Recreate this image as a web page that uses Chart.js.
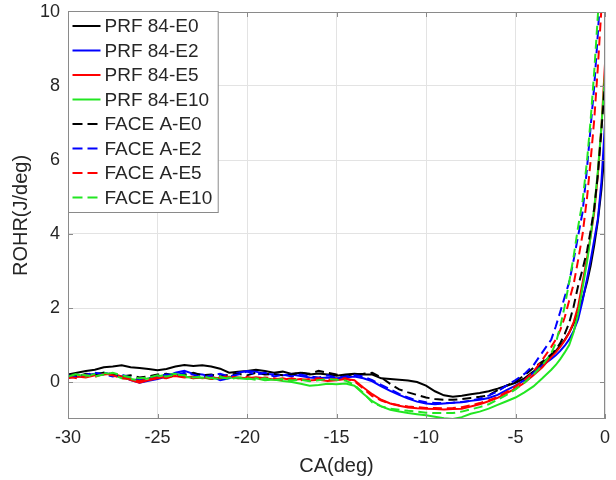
<!DOCTYPE html>
<html>
<head>
<meta charset="utf-8">
<script src="https://cdn.jsdelivr.net/npm/chart.js@4.4.0/dist/chart.umd.min.js"></script>
<style>
  html, body { margin: 0; padding: 0; background: #fff; }
  #wrap { width: 616px; height: 480px; }
</style>
</head>
<body>
<div id="wrap"><canvas id="rohrChart" width="616" height="480"></canvas></div>
<script>
// crank angle samples (deg), shared by all curves
const CA = [-30, -29.5, -29, -28.5, -28, -27.5, -27, -26.5, -26, -25.5,
  -25, -24.5, -24, -23.5, -23, -22.5, -22, -21.5, -21, -20.5,
  -20, -19.5, -19, -18.5, -18, -17.5, -17, -16.5, -16, -15.5,
  -15, -14.5, -14, -13.5, -13, -12.5, -12, -11.5, -11, -10.5,
  -10, -9.5, -9, -8.5, -8, -7.5, -7, -6.5, -6, -5.5,
  -5,
  -4.5, -4, -3.5, -3, -2.75, -2.5, -2.25, -2, -1.75, -1.5, -1.25, -1, -0.8, -0.6, -0.4, -0.2, 0];

// ROHR (J/deg)
const prfE0 = [0.2, 0.25, 0.3, 0.33, 0.4, 0.42, 0.45, 0.4, 0.38, 0.35,
  0.32, 0.35, 0.42, 0.46, 0.43, 0.45, 0.42, 0.36, 0.25, 0.28,
  0.3, 0.33, 0.3, 0.25, 0.28, 0.22, 0.25, 0.2, 0.23, 0.2,
  0.17, 0.2, 0.22, 0.2, 0.2, 0.1, 0.08, 0.06, 0.04, 0.0,
  -0.1, -0.25, -0.36, -0.4, -0.37, -0.33, -0.3, -0.25, -0.18, -0.1,
  -0.02,
  0.1, 0.28, 0.5, 0.72, 0.84, 0.98, 1.14, 1.34, 1.58, 1.88, 2.25, 2.7, 3.15, 3.7, 4.35, 5.2, 6.35];
const prfE2 = [0.12, 0.14, 0.18, 0.22, 0.25, 0.2, 0.15, 0.05, -0.02, 0.03,
  0.08, 0.15, 0.25, 0.3, 0.22, 0.2, 0.15, 0.05, 0.1, 0.25,
  0.3, 0.28, 0.22, 0.2, 0.18, 0.2, 0.16, 0.12, 0.1, 0.12,
  0.1, 0.12, 0.15, 0.1, 0.02, -0.12, -0.24, -0.35, -0.45, -0.53,
  -0.58, -0.6, -0.58, -0.56, -0.55, -0.51, -0.48, -0.43, -0.35, -0.22,
  -0.1,
  0.05, 0.25, 0.45, 0.62, 0.72, 0.84, 0.98, 1.15, 1.38, 1.7, 2.2, 2.8, 3.3, 3.85, 4.4, 5.4, 7.0];
const prfE5 = [0.1, 0.15, 0.12, 0.18, 0.2, 0.22, 0.15, 0.05, -0.02, 0.05,
  0.1, 0.15, 0.16, 0.12, 0.15, 0.1, 0.12, 0.1, 0.14, 0.12,
  0.1, 0.13, 0.1, 0.07, 0.1, 0.05, 0.08, 0.04, 0.06, 0.03,
  0.05, 0.08, 0.05, -0.15, -0.33, -0.48, -0.58, -0.64, -0.69, -0.71,
  -0.72, -0.73, -0.74, -0.73, -0.72, -0.66, -0.6, -0.52, -0.43, -0.3,
  -0.18,
  -0.02, 0.18, 0.4, 0.68, 0.8, 0.95, 1.12, 1.33, 1.62, 2.05, 2.7, 3.35, 3.95, 4.6, 5.6, 6.9, 8.6];
const prfE10 = [0.18, 0.2, 0.15, 0.22, 0.25, 0.2, 0.1, 0.08, 0.05, 0.1,
  0.15, 0.2, 0.22, 0.15, 0.1, 0.12, 0.08, 0.1, 0.12, 0.1,
  0.08, 0.1, 0.05, 0.07, 0.03, 0.0, -0.05, -0.1, -0.08, -0.05,
  -0.06, -0.04, -0.1, -0.32, -0.52, -0.66, -0.75, -0.8, -0.84, -0.87,
  -0.9, -0.94, -0.98, -1.0, -0.95, -0.86, -0.8, -0.72, -0.62, -0.52,
  -0.42,
  -0.28, -0.12, 0.1, 0.33, 0.46, 0.62, 0.8, 1.0, 1.35, 1.85, 2.55, 3.25, 3.95, 4.7, 5.7, 6.9, 8.3];
const faceE0 = [0.2, 0.15, 0.22, 0.2, 0.25, 0.2, 0.15, 0.18, 0.12, 0.15,
  0.2, 0.22, 0.15, 0.2, 0.25, 0.18, 0.2, 0.15, 0.2, 0.22,
  0.18, 0.25, 0.2, 0.22, 0.18, 0.2, 0.25, 0.22, 0.3, 0.25,
  0.2, 0.18, 0.2, 0.22, 0.25, 0.12, -0.05, -0.2, -0.28, -0.35,
  -0.42, -0.46, -0.48, -0.48, -0.46, -0.43, -0.4, -0.36, -0.22, -0.1,
  0.02,
  0.18, 0.38, 0.55, 0.75, 0.88, 1.05, 1.3, 1.6, 2.05, 2.6, 3.05, 3.55, 4.1, 4.7, 5.6, 6.8, 8.1];
const faceE2 = [0.18, 0.12, 0.2, 0.25, 0.2, 0.15, 0.2, 0.12, 0.05, 0.1,
  0.15, 0.2, 0.18, 0.25, 0.2, 0.12, 0.18, 0.22, 0.15, 0.2,
  0.28, 0.2, 0.25, 0.15, 0.2, 0.15, 0.2, 0.15, 0.12, 0.18,
  0.12, 0.15, 0.18, 0.15, 0.05, -0.08, -0.2, -0.32, -0.42, -0.5,
  -0.55, -0.57, -0.57, -0.56, -0.54, -0.51, -0.45, -0.37, -0.25, -0.1,
  0.05,
  0.22, 0.45, 0.8, 1.15, 1.5, 1.9, 2.3, 2.7, 3.3, 3.95, 4.6, 5.8, 6.9, 8.0, 9.4, 11, 13];
const faceE5 = [0.15, 0.1, 0.18, 0.14, 0.22, 0.18, 0.1, 0.08, 0.02, 0.08,
  0.12, 0.1, 0.18, 0.15, 0.1, 0.14, 0.08, 0.12, 0.16, 0.1,
  0.14, 0.08, 0.12, 0.1, 0.06, 0.1, 0.05, 0.08, 0.1, 0.06,
  0.08, 0.1, 0.02, -0.18, -0.38, -0.5, -0.58, -0.63, -0.66, -0.68,
  -0.7, -0.7, -0.71, -0.7, -0.68, -0.63, -0.57, -0.5, -0.4, -0.27,
  -0.12,
  0.05, 0.28, 0.6, 0.95, 1.15, 1.4, 1.75, 2.2, 2.65, 3.3, 4.0, 5.0, 6.0, 7.1, 8.5, 10.1, 12];
const faceE10 = [0.15, 0.22, 0.18, 0.15, 0.2, 0.25, 0.18, 0.12, 0.1, 0.12,
  0.18, 0.15, 0.2, 0.18, 0.12, 0.15, 0.1, 0.14, 0.08, 0.12,
  0.1, 0.06, 0.1, 0.05, 0.08, 0.04, 0.06, 0.02, 0.05, 0.08,
  0.06, 0.04, -0.08, -0.3, -0.55, -0.66, -0.72, -0.75, -0.78, -0.8,
  -0.83, -0.84, -0.84, -0.84, -0.8, -0.74, -0.68, -0.6, -0.48, -0.35,
  -0.2,
  -0.02, 0.2, 0.45, 0.78, 1.05, 1.5, 2.05, 2.7, 3.4, 4.2, 4.9, 6.0, 7.1, 8.4, 9.9, 11.5, 13];

const xTicks = [-30, -25, -20, -15, -10, -5, 0];
const yTicks = [0, 2, 4, 6, 8, 10];

const FONT = '"Liberation Sans", Arial, Helvetica, sans-serif';
const TEXT = '#262626';

function pts(ys) {
  return CA.map((x, i) => ({ x: x, y: ys[i] }));
}

function curve(label, ys, color, dashed, order) {
  return {
    label: label,
    data: pts(ys),
    borderColor: color,
    borderWidth: 2,
    borderDash: dashed ? [9, 5] : [],
    pointRadius: 0,
    tension: 0,
    order: order // later curves sit on top, like the original plot
  };
}

// axes box, inward ticks and the boxed legend in the top left corner
const boxLegend = {
  id: 'boxLegend',
  afterDatasetsDraw(chart) {
    const { ctx, chartArea: a, scales: { x, y } } = chart;
    ctx.save();
    ctx.setLineDash([]);
    ctx.strokeStyle = '#8a8a8a';
    ctx.lineWidth = 1;
    ctx.beginPath();
    xTicks.forEach(v => {
      const px = Math.round(x.getPixelForValue(v)) + 0.5;
      ctx.moveTo(px, a.bottom); ctx.lineTo(px, a.bottom - 5);
      ctx.moveTo(px, a.top); ctx.lineTo(px, a.top + 5);
    });
    yTicks.forEach(v => {
      const py = Math.round(y.getPixelForValue(v)) + 0.5;
      ctx.moveTo(a.left, py); ctx.lineTo(a.left + 5, py);
      ctx.moveTo(a.right, py); ctx.lineTo(a.right - 5, py);
    });
    ctx.stroke();
    ctx.strokeRect(a.left + 0.5, a.top + 0.5, a.width - 1, a.height - 1);

    const rows = chart.data.datasets;
    ctx.font = '19px ' + FONT;
    const tw = Math.max(...rows.map(d => ctx.measureText(d.label).width));
    const bx = Math.round(a.left) + 0.5, by = Math.round(a.top) - 0.5;
    const bw = 36 + tw + 6, bh = rows.length * 24.5 + 5;
    ctx.fillStyle = '#fff';
    ctx.fillRect(bx, by, bw, bh);
    ctx.strokeRect(bx, by, bw, bh);
    ctx.textBaseline = 'middle';
    rows.forEach((d, i) => {
      const cy = by + 14.5 + i * 24.5;
      ctx.strokeStyle = d.borderColor;
      ctx.lineWidth = d.borderWidth;
      ctx.setLineDash(d.borderDash.length ? [10, 5] : []);
      ctx.beginPath();
      ctx.moveTo(bx + 4, cy); ctx.lineTo(bx + 32, cy);
      ctx.stroke();
      ctx.setLineDash([]);
      ctx.fillStyle = TEXT;
      ctx.fillText(d.label, bx + 36, cy + 1);
    });
    ctx.restore();
  }
};

const ctx = document.getElementById('rohrChart').getContext('2d');

const rohrChart = new Chart(ctx, {
  type: 'line',
  data: {
    datasets: [
      curve('PRF 84-E0', prfE0, '#000000', false, 8),
      curve('PRF 84-E2', prfE2, '#0000ff', false, 7),
      curve('PRF 84-E5', prfE5, '#ff0000', false, 6),
      curve('PRF 84-E10', prfE10, '#22e622', false, 5),
      curve('FACE A-E0', faceE0, '#000000', true, 4),
      curve('FACE A-E2', faceE2, '#0000ff', true, 3),
      curve('FACE A-E5', faceE5, '#ff0000', true, 2),
      curve('FACE A-E10', faceE10, '#22e622', true, 1)
    ]
  },
  options: {
    responsive: false,
    animation: false,
    devicePixelRatio: 1,
    layout: { padding: { top: 12, right: 11, left: 0, bottom: 0 } },
    plugins: {
      legend: { display: false },
      tooltip: { enabled: false }
    },
    scales: {
      x: {
        type: 'linear',
        min: -30,
        max: 0,
        afterFit: s => { s.height = 61; s.paddingLeft = 0; s.paddingRight = 0; },
        afterBuildTicks: s => { s.ticks = xTicks.map(v => ({ value: v })); },
        ticks: { color: TEXT, font: { family: FONT, size: 18 }, padding: 8, maxRotation: 0 },
        grid: { color: '#e3e3e3', drawTicks: false },
        border: { display: false },
        title: { display: true, text: 'CA(deg)', color: TEXT, font: { family: FONT, size: 20 }, padding: { top: 0, bottom: 2 } }
      },
      y: {
        type: 'linear',
        min: -1,
        max: 10,
        afterFit: s => { s.width = 68; s.paddingTop = 0; s.paddingBottom = 0; },
        afterBuildTicks: s => { s.ticks = yTicks.map(v => ({ value: v })); },
        ticks: { color: TEXT, font: { family: FONT, size: 18 }, padding: 8 },
        grid: { color: '#e3e3e3', drawTicks: false },
        border: { display: false },
        title: { display: true, text: 'ROHR(J/deg)', color: TEXT, font: { family: FONT, size: 20 }, padding: { top: 9, bottom: 0 } }
      }
    }
  },
  plugins: [boxLegend]
});
</script>
</body>
</html>
